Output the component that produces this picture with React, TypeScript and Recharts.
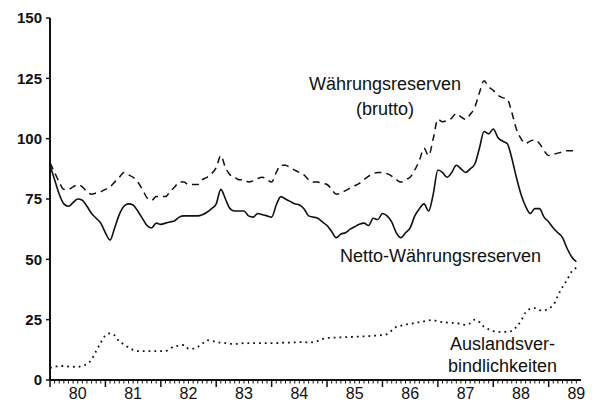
import React from 'react';
import { LineChart, Line, XAxis, YAxis } from 'recharts';

// monthly values, Jan 1980 .. Jul 1989 (index = months since Jan 1980)
const yearLabels = ['80', '81', '82', '83', '84', '85', '86', '87', '88', '89'];
const yTicks = [0, 25, 50, 75, 100, 125, 150];

const brutto = [
  90, 86, 82, 79, 79, 80, 81, 80, 78, 77,
  77.5, 78, 79, 80, 82, 84, 86, 85, 84, 82,
  79, 75.5, 74.5, 76, 76, 76, 78, 80, 82, 82,
  81, 81, 81, 83, 84, 85.5, 88, 93, 88, 85,
  84, 83, 83, 82, 82.5, 83.5, 84, 83, 82, 86,
  89, 89, 88, 87, 86, 85, 83, 82, 82, 81.5,
  81, 79, 77, 77.5, 78.5, 79.5, 80.5, 81.5, 83, 84.5,
  85.5, 86, 86, 85.5, 84.5, 83, 82, 83, 84, 87,
  91, 96, 93, 100, 108, 107, 107.5, 108.5, 110.5, 109,
  108, 110, 113, 119, 124, 121.5, 120, 118, 117, 116.5,
  111, 104, 100, 98, 99, 99.5, 98, 95, 93, 93.5,
  94, 94.5, 95, 95, 94.5,
];

const netto = [
  89, 83, 77, 73, 72, 73.5, 75, 74.5, 72, 69,
  67, 65, 61, 58, 63, 68.5, 72, 73, 72.5, 70,
  67, 64, 63, 65, 64.5, 65, 65.5, 66, 67.5, 68,
  68, 68, 68, 68.5, 69.5, 71, 73, 79, 75, 71,
  70, 70, 70, 68, 67.5, 69, 68.5, 68, 67.5, 72.5,
  76, 75, 74, 73, 72.5, 71, 68, 67.5, 67, 65.5,
  64, 61.5, 59, 60.5, 61, 62.5, 63.5, 64.5, 65, 64,
  67, 66.5, 69, 68, 65.5, 61, 59, 61, 63, 68,
  71, 73, 70, 77, 87, 86, 84, 86, 89, 87.5,
  86, 87.5, 89.5, 96, 103, 102, 104, 100.5, 99, 98,
  92, 84, 77, 72, 69, 71, 71, 67.5, 65.5, 63,
  61, 59, 54.5, 51, 49,
];

const ausland = [
  5, 5.5, 5.8, 5.8, 5.6, 5.5, 5.4, 6, 6.5, 8.5,
  12, 15.5, 18.5, 19.3, 18.5, 16, 14.8, 13.5, 12.5, 12,
  12, 12, 12, 12, 12, 12, 13, 14, 14.2, 14.5,
  13, 13, 13.7, 15, 16.5, 16.2, 15.8, 15.5, 15.3, 15,
  15, 15, 15.3, 15.3, 15.3, 15.3, 15.3, 15.3, 15.3, 15.3,
  15.4, 15.5, 15.5, 15.6, 15.7, 15.7, 15.5, 15.7, 16.2, 17,
  17.4, 17.5, 17.6, 17.7, 17.8, 17.8, 18, 18, 18.1, 18.2,
  18.3, 18.5, 18.6, 19, 20.5, 22, 22.5, 23, 23.3, 23.6,
  24, 24.3, 24.7, 24.8, 24.3, 24, 23.8, 23.7, 23.6, 23.2,
  22.8, 23.5, 25, 24, 22, 21, 20.3, 20, 19.9, 20,
  20.3, 22, 24.5, 28, 29.5, 29.8, 29, 28.8, 29.8, 31,
  35, 38.5, 41.5, 45, 46.5,
];

const data = brutto.map((b, i) => ({ m: i, brutto: b, netto: netto[i], ausland: ausland[i] }));
const monthTicks = data.map((d) => d.m);

const FONT = '"Liberation Sans", Arial, Helvetica, sans-serif';
const INK = '#111';

const MonthTick = (props: any) => {
  const { x, y, payload } = props;
  const m = payload.value as number;
  const major = m % 12 === 0;
  const label = m % 12 === 6 ? yearLabels[Math.floor(m / 12)] : null;
  return (
    <g>
      <line x1={x} x2={x} y1={y} y2={y + (major ? 7 : 3.5)} stroke={INK} strokeWidth={major ? 1.5 : 1} />
      {label && (
        <text x={x} y={y + 19} textAnchor="middle" fontSize={16} fontFamily={FONT} fill={INK}>
          {label}
        </text>
      )}
    </g>
  );
};

const App: React.FC = () => {
  return (
    <div style={{ position: 'absolute', left: 0, top: 0, width: 593, height: 401, background: '#fff' }}>
      <LineChart width={593} height={401} data={data} margin={{ top: 18, right: 12, left: 0, bottom: 0 }}>
        <XAxis
          dataKey="m"
          type="number"
          domain={[0, 115]}
          ticks={monthTicks}
          interval={0}
          height={21}
          tickSize={0}
          tickMargin={0}
          tickLine={false}
          axisLine={{ stroke: INK, strokeWidth: 2 }}
          tick={<MonthTick />}
        />
        <YAxis
          type="number"
          domain={[0, 150]}
          ticks={yTicks}
          width={50}
          tickSize={4}
          tickMargin={4}
          axisLine={{ stroke: INK, strokeWidth: 2 }}
          tickLine={{ stroke: INK, strokeWidth: 1.5 }}
          tick={{ fill: INK, fontSize: 15, fontFamily: FONT, fontWeight: 'bold' }}
        />
        <Line type="monotone" dataKey="brutto" stroke={INK} strokeWidth={1.5} strokeDasharray="7 5" dot={false} isAnimationActive={false} />
        <Line type="monotone" dataKey="netto" stroke={INK} strokeWidth={1.6} dot={false} isAnimationActive={false} />
        <Line type="monotone" dataKey="ausland" stroke={INK} strokeWidth={1.8} strokeDasharray="1.8 4" dot={false} isAnimationActive={false} />
      </LineChart>
      <svg width={593} height={401} style={{ position: 'absolute', left: 0, top: 0, pointerEvents: 'none' }}>
        <g fontFamily={FONT} fontSize={18} fill={INK}>
          <text x={309} y={90}>Währungsreserven</text>
          <text x={356} y={115}>(brutto)</text>
          <text x={340} y={262}>Netto-Währungsreserven</text>
          <text x={450} y={350}>Auslandsver-</text>
          <text x={448} y={372}>bindlichkeiten</text>
        </g>
      </svg>
    </div>
  );
};

export default App;
